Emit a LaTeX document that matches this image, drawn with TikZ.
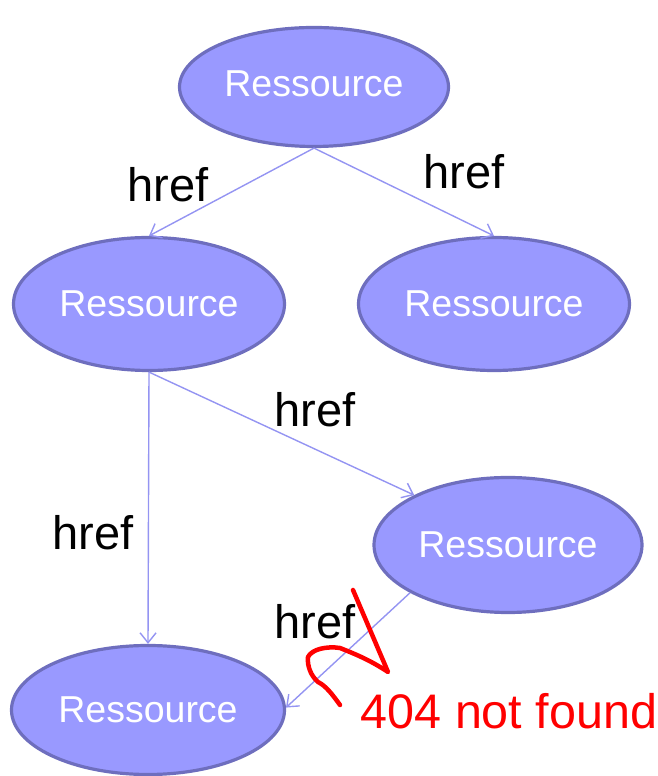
\documentclass[tikz,border=0pt]{standalone}
\usepackage{fontspec}
\setmainfont{Liberation Sans}
\usetikzlibrary{shapes.geometric,arrows.meta}
\definecolor{resfill}{HTML}{9999FF}
\definecolor{resborder}{HTML}{6E6EBE}
\definecolor{linkcol}{HTML}{9494F2}
\begin{document}
\begin{tikzpicture}[x=1pt,y=1pt,
  res/.style={ellipse,draw=resborder,fill=resfill,line width=3.2pt,inner sep=0pt,
    text=white,font=\fontsize{37.5}{37.5}\selectfont},
  link/.style={draw=linkcol,line width=1.4pt,-{Straight Barb[length=10pt,width=16pt,line width=1.4pt]}},
  lbl/.style={text=black,font=\fontsize{47}{47}\selectfont,inner sep=0pt},
  scribble/.style={draw=red,line width=4.5pt,line cap=round,line join=round}]
\useasboundingbox (0,0) rectangle (658,776);
\node[res,minimum width=269pt,minimum height=119pt] (top) at (314,689) {\raisebox{7pt}{Ressource}};
\node[res,minimum width=271pt,minimum height=133pt] (ml) at (149,472) {Ressource};
\node[res,minimum width=271pt,minimum height=133pt] (mr) at (494,472) {Ressource};
\node[res,minimum width=268pt,minimum height=135pt] (rl) at (508,231) {Ressource};
\node[res,minimum width=273pt,minimum height=129pt] (bl) at (148,66) {Ressource};
\draw[link] (top.south) -- (ml.north);
\draw[link] (top.south) -- (mr.north);
\draw[link] (ml.south) -- (rl.152);
\draw[link] (ml.south) -- (bl.north);
\draw[link] (rl.206) -- (bl.1);
\node[lbl] (h1) at (168,591) {href};
\node[lbl] (h2) at (464,604) {href};
\node[lbl] (h3) at (315,366) {href};
\node[lbl] (h4) at (93,243) {href};
\node[lbl] (h5) at (315,154) {href};
\node[lbl,text=red,font=\fontsize{48.5}{48.5}\selectfont] (nf) at (509,65) {404 not found};
\draw[scribble] (353,186) -- (388,104) .. controls (370,116) and (355,122) .. (340,128)
  .. controls (327,130) and (312,127) .. (308,119)
  .. controls (307,110) and (311,100) .. (318,94)
  .. controls (326,90) and (332,82) .. (340,71);
\end{tikzpicture}
\end{document}
